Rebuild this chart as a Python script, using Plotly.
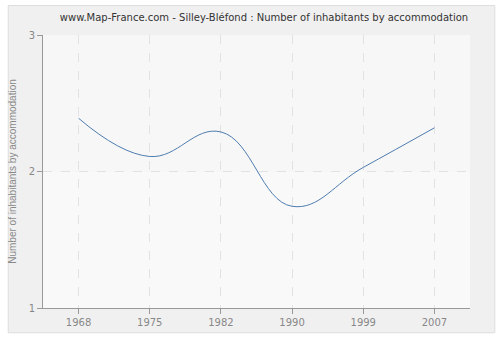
import plotly.graph_objects as go

years = ["1968", "1975", "1982", "1990", "1999", "2007"]
values = [2.39, 2.11, 2.29, 1.745, 2.03, 2.32]
y_ticks = [1, 2, 3]

title = "www.Map-France.com - Silley-Bléfond : Number of inhabitants by accommodation"
y_title = "Number of inhabitants by accommodation"

fig = go.Figure()
fig.add_trace(go.Scatter(
    x=years, y=values, mode="lines",
    line=dict(color="#4f7cb0", width=1, shape="spline", smoothing=1.2),
    hoverinfo="x+y", showlegend=False,
))

fig.update_layout(
    width=500, height=340,
    margin=dict(l=40, r=30, t=35, b=30),
    paper_bgcolor="white",
    plot_bgcolor="#f9f9f9",
    font=dict(family="DejaVu Sans", size=10, color="#888888"),
    title=dict(text=title, x=0.528, xanchor="center", y=0.95, yanchor="middle",
               font=dict(family="DejaVu Sans", size=10, color="#333333")),
    shapes=[
        dict(type="rect", xref="paper", yref="paper", x0=-0.0814, x1=1.0581,
             y0=-0.0908, y1=1.1079, fillcolor="#f0f0f0", line=dict(color="#dddddd", width=1),
             layer="below"),
        dict(type="rect", xref="paper", yref="y", x0=0, x1=1, y0=2, y1=3,
             fillcolor="#f7f7f7", line=dict(width=0), layer="below"),
        dict(type="rect", xref="paper", yref="y", x0=0, x1=1, y0=1, y1=2,
             fillcolor="#f9f9f9", line=dict(width=0), layer="below"),
    ],
)

fig.update_xaxes(
    type="category", range=[-0.5, 5.5],
    showline=True, linecolor="#999999", linewidth=1,
    ticks="outside", ticklen=5, tickcolor="#999999",
    showgrid=True, gridcolor="#e2e2e2", griddash="dash", gridwidth=1,
    tickfont=dict(size=10, color="#888888"), zeroline=False,
)
fig.update_yaxes(
    range=[1, 3], tickvals=y_ticks, ticktext=[str(v) for v in y_ticks],
    showline=True, linecolor="#999999", linewidth=1,
    ticks="outside", ticklen=5, tickcolor="#999999",
    showgrid=True, gridcolor="#e2e2e2", griddash="dash", gridwidth=1,
    tickfont=dict(size=10, color="#888888"), zeroline=False,
    title=dict(text=y_title, font=dict(family="Liberation Sans", size=10, color="#888888"),
               standoff=10),
)

fig.write_html("out.html")
